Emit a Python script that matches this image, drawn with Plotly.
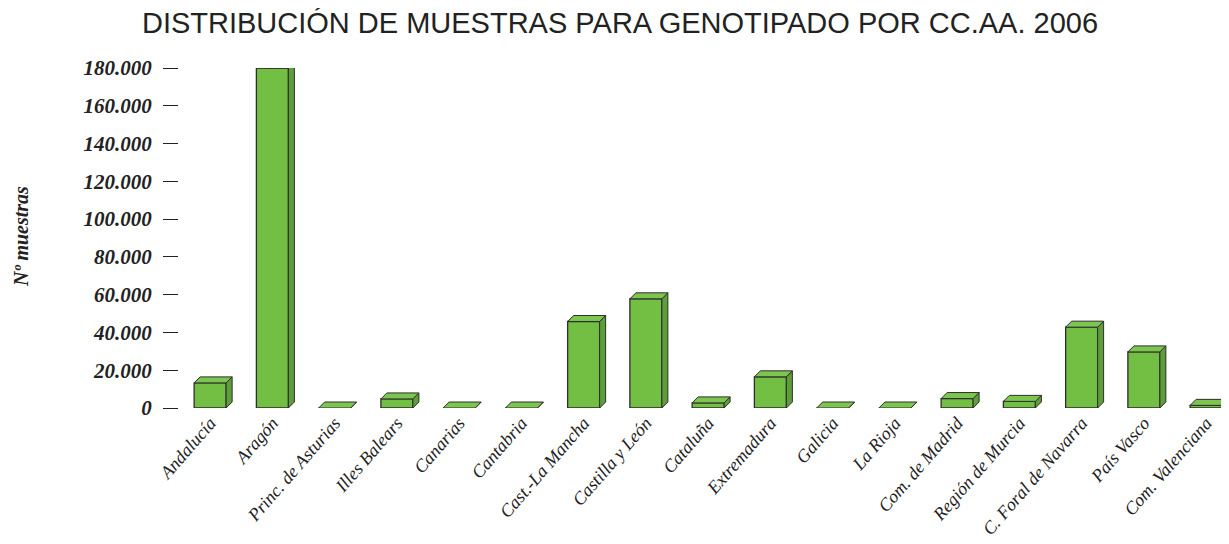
import plotly.graph_objects as go

categories = ["Andalucía", "Aragón", "Princ. de Asturias", "Illes Balears", "Canarias",
              "Cantabria", "Cast.-La Mancha", "Castilla y León", "Cataluña", "Extremadura",
              "Galicia", "La Rioja", "Com. de Madrid", "Región de Murcia",
              "C. Foral de Navarra", "País Vasco", "Com. Valenciana"]
values = [13300, 180000, 0, 4800, 0, 0, 45800, 57800, 2700, 16500, 0, 0, 5000, 3500,
          42800, 29700, 1400]
y_ticks = [0, 20000, 40000, 60000, 80000, 100000, 120000, 140000, 160000, 180000]

# page body has an 8px margin; figure is sized so it fills the 1229x544 window
OFF = 8
W, H = 1229 - OFF, 544 - OFF
ML, MR, MT, MB = 179 - OFF, 0, 68 - OFF, 136
px_per_cat = 62.25
x0 = -0.5
x1 = x0 + (W - ML - MR) / px_per_cat
y0, y1 = 0, 180000
px_per_val = (H - MT - MB) / (y1 - y0)

bw = 32 / px_per_cat          # front face width (category units)
dx = 6 / px_per_cat           # depth offset x
dy = 6 / px_per_val           # depth offset y

front_col = "#72bf44"
top_col = "#7cc650"
side_col = "#5e9e38"
edge_col = "#2e2e2e"

xs = list(range(len(categories)))

# top faces and side faces derived from data
tx, ty, sx, sy = [], [], [], []
for i, v in zip(xs, values):
    l, r = i - bw / 2, i + bw / 2
    tx += [l, r, r + dx, l + dx, l, None]
    ty += [v, v, v + dy, v + dy, v, None]
    sx += [r, r + dx, r + dx, r, r, None]
    sy += [0, dy, v + dy, v, 0, None]

fig = go.Figure()
fig.add_trace(go.Scatter(x=sx, y=sy, mode="lines", fill="toself", fillcolor=side_col,
                         line=dict(color=edge_col, width=1), cliponaxis=False,
                         hoverinfo="skip", showlegend=False))
fig.add_trace(go.Scatter(x=tx, y=ty, mode="lines", fill="toself", fillcolor=top_col,
                         line=dict(color=edge_col, width=1), cliponaxis=False,
                         hoverinfo="skip", showlegend=False))
fig.add_trace(go.Bar(x=xs, y=values, width=bw, marker=dict(color=front_col,
                     line=dict(color=edge_col, width=1.3)), cliponaxis=False,
                     showlegend=False))

fig.update_layout(
    width=W, height=H,
    margin=dict(l=ML, r=MR, t=MT, b=MB, autoexpand=False),
    paper_bgcolor="white", plot_bgcolor="white",
    separators=",.",
    title=dict(text="DISTRIBUCIÓN DE MUESTRAS PARA GENOTIPADO POR CC.AA. 2006",
               x=(620 - OFF) / W, xanchor="center", y=1 - (23 - OFF) / H, yanchor="middle",
               font=dict(family="Liberation Sans", size=29, color="#222222")),
    xaxis=dict(range=[x0, x1], tickvals=xs, ticktext=categories, tickangle=-49,
               showgrid=False, zeroline=False, showline=False, ticks="",
               automargin=False,
               tickfont=dict(family="Liberation Serif", size=18, style="italic",
                             color="#222222")),
    yaxis=dict(range=[y0, y1], tickvals=y_ticks, tickformat=",.0f",
               showgrid=False, zeroline=False, showline=False, automargin=False,
               ticks="outside", ticklen=15, tickwidth=1.3, tickcolor="#222222",
               ticklabelstandoff=7,
               tickfont=dict(family="Liberation Serif", size=21, weight="bold",
                             style="italic", color="#222222")),
)
fig.add_annotation(text="Nº muestras", xref="paper", yref="paper",
                   x=(21 - OFF - ML) / (W - ML - MR),
                   y=(H - MB - (237 - OFF)) / (H - MT - MB),
                   textangle=-90, showarrow=False, xanchor="center", yanchor="middle",
                   font=dict(family="Liberation Serif", size=20, weight="bold",
                             style="italic", color="#222222"))

fig.write_html("out.html")
